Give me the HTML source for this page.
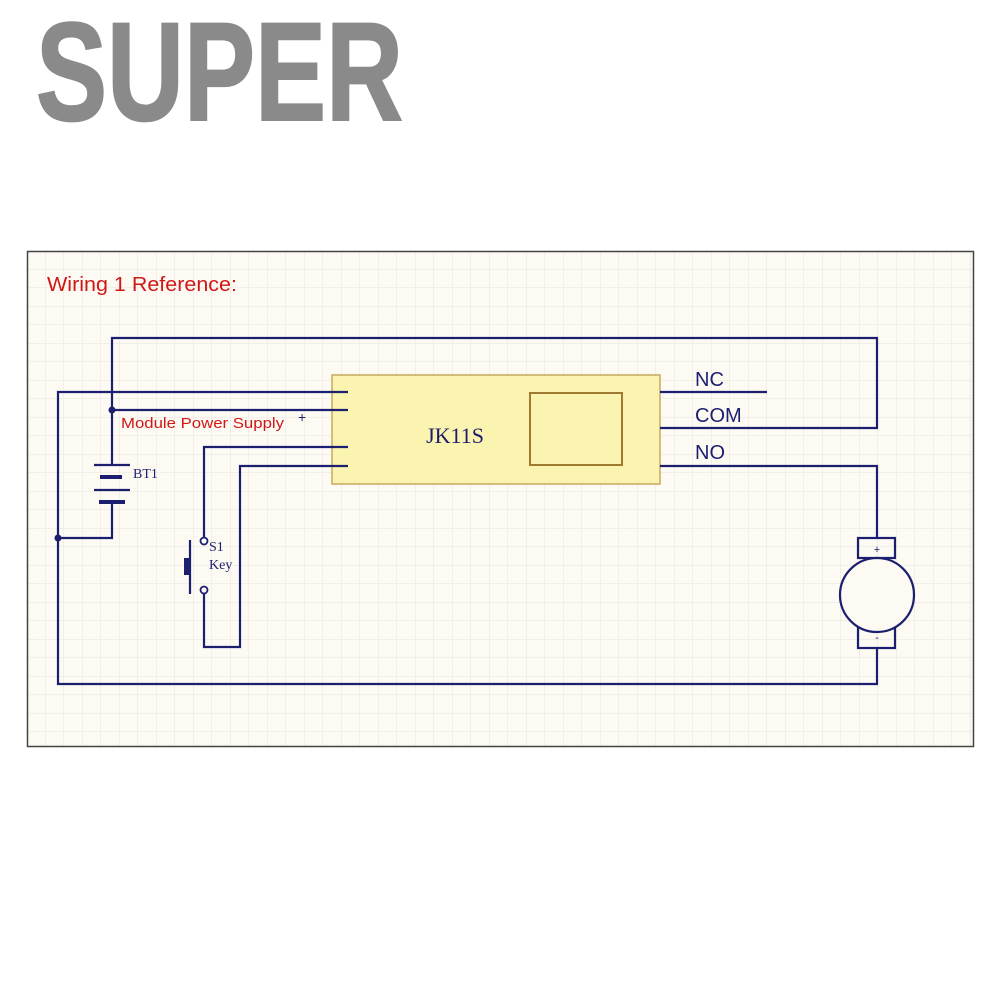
<!DOCTYPE html>
<html><head><meta charset="utf-8"><style>
html,body{margin:0;padding:0;background:#fff;}
</style></head><body>
<svg width="1001" height="1001" viewBox="0 0 1001 1001" xmlns="http://www.w3.org/2000/svg">
<defs>
<pattern id="g" width="18.5" height="18.5" patternUnits="userSpaceOnUse" x="27" y="251">
<path d="M18.5 0V18.5H0" fill="none" stroke="#e6e4dc" stroke-width="1"/>
</pattern>
</defs>
<rect width="1001" height="1001" fill="#fff"/>
<text x="36" y="120" font-family="Liberation Sans, sans-serif" font-weight="bold" font-size="140" fill="#8a8a8a" textLength="367" lengthAdjust="spacingAndGlyphs" stroke="#8a8a8a" stroke-width="2">SUPER</text>
<rect x="27" y="251" width="947" height="496" fill="#fcfaf2"/>
<rect x="27" y="251" width="947" height="496" fill="url(#g)"/>
<rect x="27.5" y="251.5" width="946" height="495" fill="none" stroke="#444" stroke-width="1.5"/>
<text x="47" y="291" font-family="Liberation Sans, sans-serif" font-size="20" fill="#d01818" textLength="190" lengthAdjust="spacingAndGlyphs">Wiring 1 Reference:</text>
<rect x="332" y="375" width="328" height="109" fill="#fbf4b0" stroke="#c8a860" stroke-width="1.5"/>
<rect x="530" y="393" width="92" height="72" fill="none" stroke="#a07a30" stroke-width="2"/>
<text x="455" y="443" text-anchor="middle" font-family="Liberation Serif, serif" font-size="22" fill="#1c1c6a">JK11S</text>
<g fill="none" stroke="#1c1f70" stroke-width="2.2">
<path d="M112 410V338H877V428H660"/>
<path d="M660 392H767"/>
<path d="M660 466H877V538"/>
<path d="M877 648V684H58V392H348"/>
<path d="M112 410H348"/>
<path d="M112 410V465"/>
<path d="M112 502V538H58"/>
<path d="M204 537V447H348"/>
<path d="M204 594V647H240V466H348"/>
<path d="M94 465H130M94 490H130"/>
<rect x="858" y="538" width="37" height="20"/>
<rect x="858" y="625" width="37" height="23"/>
<circle cx="877" cy="595" r="37" fill="#fcfaf2"/>
<path d="M190 540V594"/>
<circle cx="204" cy="541" r="3.5" stroke-width="1.8"/>
<circle cx="204" cy="590" r="3.5" stroke-width="1.8"/>
</g>
<g fill="#1c1f70">
<rect x="100" y="475" width="22" height="4"/>
<rect x="99" y="500" width="26" height="4"/>
<rect x="184" y="558" width="6" height="17"/>
<circle cx="112" cy="410" r="3.5"/>
<circle cx="58" cy="538" r="3.5"/>
</g>
<text x="121" y="428" font-family="Liberation Sans, sans-serif" font-size="15" fill="#d01818" textLength="163" lengthAdjust="spacingAndGlyphs">Module Power Supply</text>
<text x="298" y="422" font-family="Liberation Sans, sans-serif" font-size="14" fill="#1c1f70">+</text>
<text x="133" y="478" font-family="Liberation Serif, serif" font-size="14" fill="#1c1f70">BT1</text>
<text x="209" y="551" font-family="Liberation Serif, serif" font-size="14" fill="#1c1f70">S1</text>
<text x="209" y="569" font-family="Liberation Serif, serif" font-size="14" fill="#1c1f70">Key</text>
<text x="695" y="386" font-family="Liberation Sans, sans-serif" font-size="20" fill="#1c1f70">NC</text>
<text x="695" y="422" font-family="Liberation Sans, sans-serif" font-size="20" fill="#1c1f70">COM</text>
<text x="695" y="459" font-family="Liberation Sans, sans-serif" font-size="20" fill="#1c1f70">NO</text>
<text x="877" y="553" text-anchor="middle" font-family="Liberation Sans, sans-serif" font-size="11" fill="#1c1f70">+</text>
<text x="877" y="641" text-anchor="middle" font-family="Liberation Sans, sans-serif" font-size="11" fill="#1c1f70">-</text>
</svg>
</body></html>
